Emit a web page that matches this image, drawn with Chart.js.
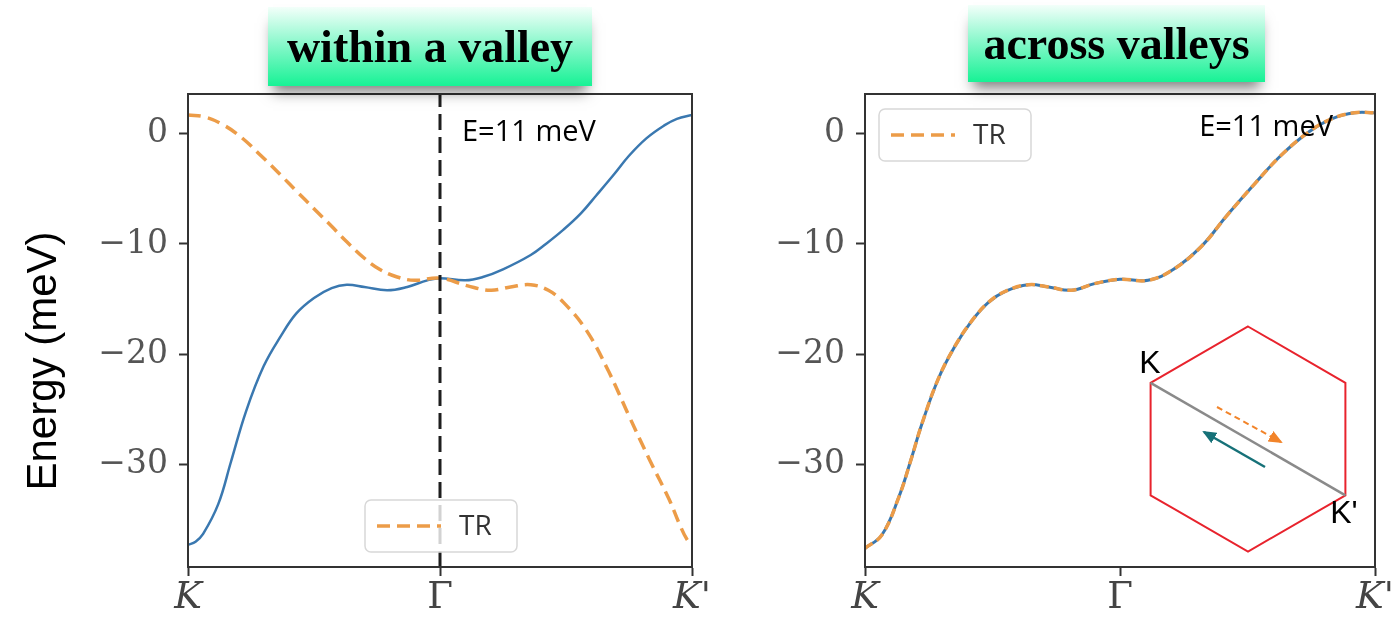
<!DOCTYPE html>
<html>
<head>
<meta charset="utf-8">
<script src="https://cdn.jsdelivr.net/npm/chart.js@4.4.0/dist/chart.umd.min.js"></script>
<style>
  body { margin: 0; background: #fff; }
  #wrap { position: relative; width: 1392px; height: 622px; overflow: hidden; background: #fff; }
  canvas { position: absolute; left: 0; top: 0; }
  .tag {
    position: absolute;
    font: bold 46px "Liberation Serif", "Times New Roman", serif;
    color: #000;
    text-align: center;
    white-space: nowrap;
    background: linear-gradient(#f3fffa, #8df8cd 45%, #17f295);
    box-shadow: 0 11px 13px -5px rgba(0, 0, 0, 0.5);
  }
  #inset { position: absolute; left: 0; top: 0; }
</style>
</head>
<body>
<div id="wrap">
  <canvas id="within" width="1392" height="622"></canvas>
  <canvas id="across" width="1392" height="622"></canvas>
  <div class="tag" style="left:268px; top:7px; width:324px; height:79px; line-height:79px;">within a valley</div>
  <div class="tag" style="left:968px; top:5px; width:297px; height:77px; line-height:77px;">across valleys</div>
  <svg id="inset" width="1392" height="622">
    <defs>
      <marker id="headOrange" markerUnits="userSpaceOnUse" markerWidth="14" markerHeight="12" refX="12" refY="6" orient="auto">
        <path d="M0,0 L14,6 L0,12 z" fill="#f2842a"></path>
      </marker>
      <marker id="headTeal" markerUnits="userSpaceOnUse" markerWidth="14" markerHeight="12" refX="12" refY="6" orient="auto">
        <path d="M0,0 L14,6 L0,12 z" fill="#167178"></path>
      </marker>
    </defs>
    <text transform="translate(56,361) rotate(-90)" text-anchor="middle" font-family="Liberation Sans" font-size="42" fill="#000">Energy (meV)</text>
    <!-- Brillouin zone with the K -> K' cut -->
    <polygon points="1248,326.5 1345.4,382.8 1345.4,495.3 1248,551.5 1150.6,495.3 1150.6,382.8"
             fill="none" stroke="#e8232d" stroke-width="2"></polygon>
    <line x1="1150.6" y1="382.8" x2="1345.4" y2="495.3" stroke="#8a8a8a" stroke-width="2.5"></line>
    <line x1="1217" y1="407" x2="1281" y2="442" stroke="#f2842a" stroke-width="2" stroke-dasharray="6 4" marker-end="url(#headOrange)"></line>
    <line x1="1265" y1="467" x2="1204" y2="432" stroke="#167178" stroke-width="2.5" marker-end="url(#headTeal)"></line>
    <text x="1150" y="373" text-anchor="middle" font-family="Liberation Sans" font-size="32" fill="#000">K</text>
    <text x="1344" y="523" text-anchor="middle" font-family="Liberation Sans" font-size="32" fill="#000">K'</text>
    <!-- energy of the scattering state -->
    <text x="462" y="141" font-family="Open Sans" font-size="29" fill="#000">E=11 meV</text>
    <text x="1333" y="136" text-anchor="end" font-family="Open Sans" font-size="29" fill="#000">E=11 meV</text>
  </svg>
</div>

<script>
// path coordinate: 0 = K, 0.5 = Γ, 1 = K'
const kTicks = [0, 0.5, 1];
const kLabels = ['K', 'Γ', "K'"];
const energyTicks = [-30, -20, -10, 0];
const energyMin = -39.3;
const energyMax = 3.6;
const gammaK = 0.5;

// within a valley: band and its time-reversed partner (meV)
const valleyK = [0, 0.015, 0.03, 0.06, 0.085, 0.115, 0.15, 0.185, 0.215, 0.25, 0.285, 0.315, 0.35, 0.395, 0.435, 0.475, 0.5, 0.55, 0.585, 0.625, 0.68, 0.71, 0.745, 0.78, 0.81, 0.845, 0.875, 0.91, 0.945, 0.97, 1];
const valleyBand = [-37.3, -37.0, -36.3, -33.6, -29.8, -25.2, -21.1, -18.3, -16.3, -14.9, -14.0, -13.7, -13.9, -14.2, -13.9, -13.3, -13.1, -13.3, -13.0, -12.3, -11.0, -10.0, -8.7, -7.2, -5.6, -3.7, -2.0, -0.4, 0.75, 1.35, 1.7];
const valleyTrK = [0, 0.035, 0.07, 0.105, 0.145, 0.185, 0.215, 0.25, 0.285, 0.315, 0.35, 0.38, 0.415, 0.45, 0.5, 0.555, 0.6, 0.64, 0.68, 0.715, 0.745, 0.79, 0.835, 0.875, 0.915, 0.955, 0.975, 0.99, 1];
const valleyTrBand = [1.7, 1.5, 0.8, -0.3, -2.0, -3.8, -5.2, -6.8, -8.4, -9.8, -11.3, -12.3, -13.0, -13.3, -13.1, -13.8, -14.2, -13.9, -13.7, -14.2, -15.3, -17.8, -21.6, -25.6, -29.5, -33.2, -35.4, -36.8, -37.3];

// across valleys: band and TR partner coincide
const acrossK = [0, 0.033, 0.066, 0.09, 0.111, 0.144, 0.176, 0.209, 0.242, 0.275, 0.32, 0.36, 0.405, 0.45, 0.5, 0.555, 0.605, 0.66, 0.71, 0.765, 0.815, 0.87, 0.915, 0.96, 1];
const acrossBand = [-37.6, -36.4, -33.0, -29.6, -26.4, -22.2, -19.3, -17.0, -15.3, -14.3, -13.7, -13.9, -14.2, -13.6, -13.2, -13.3, -12.3, -10.2, -7.4, -4.5, -2.0, 0.15, 1.35, 1.9, 1.9];
const acrossTrBand = [-37.6, -36.4, -33.0, -29.6, -26.4, -22.2, -19.3, -17.0, -15.3, -14.3, -13.7, -13.9, -14.2, -13.6, -13.2, -13.3, -12.3, -10.2, -7.4, -4.5, -2.0, 0.15, 1.35, 1.9, 1.9];

const blue = '#3a78b0';
const orange = '#ec9c48';

function pts(xs, ys) {
  return xs.map((x, i) => ({x: x, y: ys[i]}));
}

// box around the plot area
const frame = {
  id: 'frame',
  afterDatasetsDraw(chart) {
    const a = chart.chartArea, ctx = chart.ctx;
    ctx.save();
    ctx.strokeStyle = '#333';
    ctx.lineWidth = 2;
    ctx.strokeRect(a.left, a.top, a.right - a.left, a.bottom - a.top);
    ctx.restore();
  }
};

// matplotlib-style legend box, only for the TR curve
const trLegend = {
  id: 'trLegend',
  afterDatasetsDraw(chart, args, opts) {
    const ds = chart.data.datasets.find(d => d.label === 'TR');
    const a = chart.chartArea, ctx = chart.ctx;
    const x = a.left + opts.left, y = a.top + opts.top, w = 152, h = 52;
    ctx.save();
    ctx.beginPath();
    ctx.roundRect(x, y, w, h, 6);
    ctx.fillStyle = 'rgba(255,255,255,0.8)';
    ctx.fill();
    ctx.strokeStyle = '#d8d8d8';
    ctx.lineWidth = 1.5;
    ctx.stroke();
    ctx.beginPath();
    ctx.setLineDash([13, 7]);
    ctx.strokeStyle = ds.borderColor;
    ctx.lineWidth = ds.borderWidth;
    ctx.moveTo(x + 12, y + h / 2);
    ctx.lineTo(x + 76, y + h / 2);
    ctx.stroke();
    ctx.setLineDash([]);
    ctx.fillStyle = '#333';
    ctx.font = '28px "Open Sans"';
    ctx.textBaseline = 'middle';
    ctx.fillText(ds.label, x + 94, y + h / 2 + 1);
    ctx.restore();
  }
};

function panel(id, datasets, cfg) {
  return new Chart(document.getElementById(id), {
    type: 'line',
    data: { datasets: datasets },
    options: {
      responsive: false,
      animation: false,
      layout: { padding: cfg.padding },
      elements: {
        point: { radius: 0 },
        line: { tension: 0.4, borderCapStyle: 'butt' }
      },
      plugins: {
        legend: { display: false },
        tooltip: { enabled: false },
        trLegend: cfg.legend
      },
      scales: {
        x: {
          type: 'linear',
          min: 0,
          max: 1,
          afterBuildTicks: s => { s.ticks = kTicks.map(v => ({value: v})); },
          afterFit: s => { s.height = 55; s.paddingLeft = 0; s.paddingRight = 0; },
          grid: { drawOnChartArea: false, tickLength: 9, tickColor: '#333', tickWidth: 2 },
          border: { color: '#333', width: 2 },
          ticks: {
            autoSkip: false,
            maxRotation: 0,
            padding: 0,
            color: '#444',
            font: ctx => ctx.index === 1
              ? { family: 'DejaVu Serif', size: 37 }
              : { family: 'DejaVu Serif', size: 37, style: 'italic' },
            callback: (v, i) => kLabels[i]
          }
        },
        y: {
          min: energyMin,
          max: energyMax,
          afterBuildTicks: s => { s.ticks = energyTicks.map(v => ({value: v})); },
          afterFit: s => { s.width = cfg.axisWidth; },
          grid: { drawOnChartArea: false, tickLength: 9, tickColor: '#333', tickWidth: 2 },
          border: { color: '#333', width: 2 },
          ticks: {
            padding: 11,
            color: '#555',
            font: { family: 'DejaVu Serif', size: 33 },
            callback: v => v < 0 ? '\u2212' + Math.abs(v) : String(v)
          }
        }
      }
    },
    plugins: [frame, trLegend]
  });
}

panel('within', [
  {
    label: 'Γ',
    data: [{x: gammaK, y: energyMin}, {x: gammaK, y: energyMax}],
    borderColor: '#1e1e1e',
    borderWidth: 3,
    borderDash: [16, 7],
    tension: 0
  },
  {
    label: 'TR',
    data: pts(valleyTrK, valleyTrBand),
    borderColor: orange,
    borderWidth: 3.5,
    borderDash: [13, 7]
  },
  {
    label: 'band',
    data: pts(valleyK, valleyBand),
    borderColor: blue,
    borderWidth: 2.5
  }
], {
  padding: { left: 0, top: 94, right: 700, bottom: 0 },
  axisWidth: 188,
  legend: { left: 177, top: 406 }
});

panel('across', [
  {
    label: 'TR',
    data: pts(acrossK, acrossTrBand),
    borderColor: orange,
    borderWidth: 3.5,
    borderDash: [9, 5]
  },
  {
    label: 'band',
    data: pts(acrossK, acrossBand),
    borderColor: blue,
    borderWidth: 3
  }
], {
  padding: { left: 692, top: 94, right: 17, bottom: 0 },
  axisWidth: 173,
  legend: { left: 14, top: 15 }
});
</script>
</body>
</html>
